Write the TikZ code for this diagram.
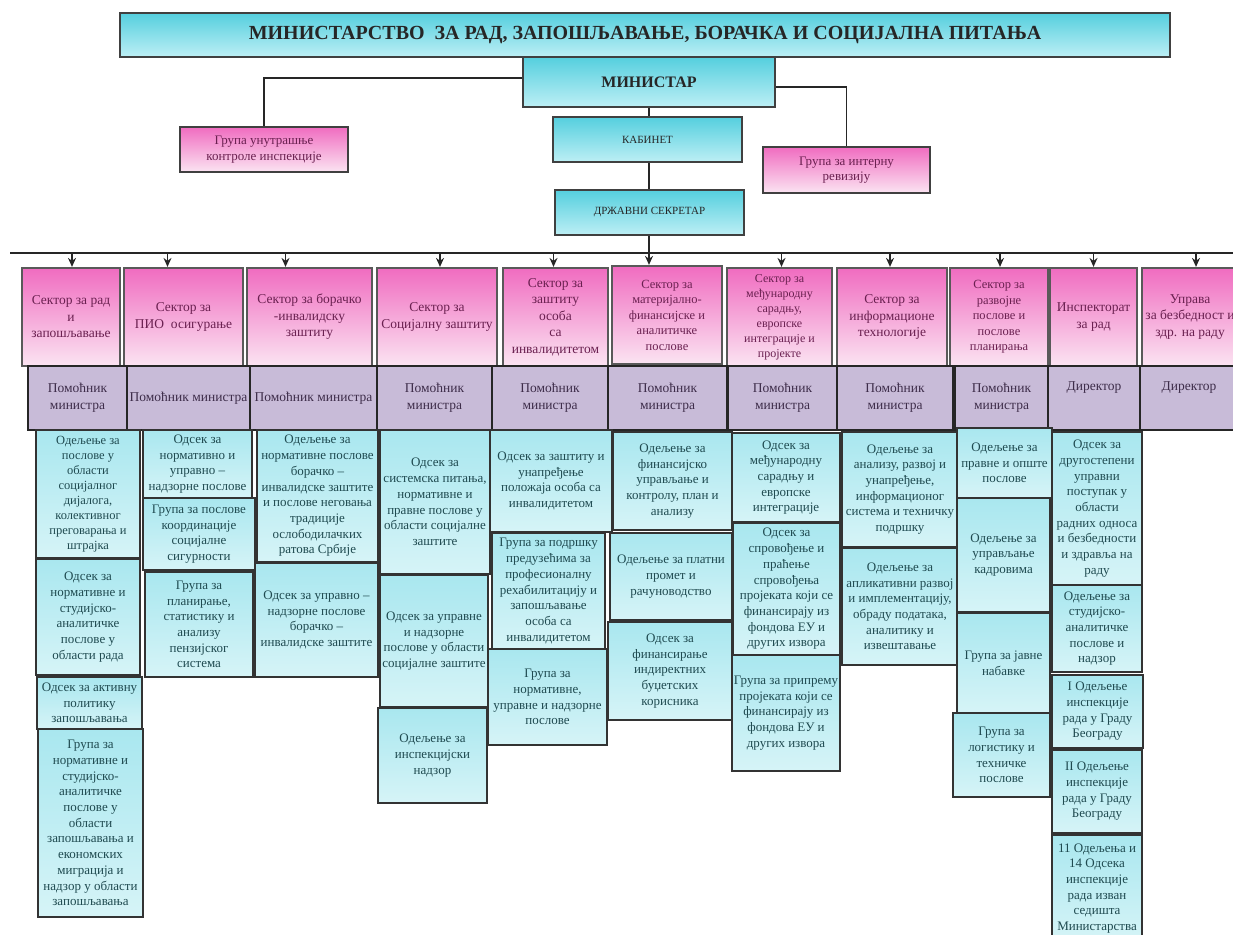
\documentclass[tikz,border=0pt]{standalone}
\usepackage{fontspec}
\setmainfont{Liberation Serif}
\usetikzlibrary{arrows.meta}

\definecolor{pinktop}{HTML}{F06CC0}
\definecolor{pinkbot}{HTML}{FBE4F2}
\definecolor{headtop}{HTML}{55CFDE}
\definecolor{headbot}{HTML}{BDEFF5}
\definecolor{celltop}{HTML}{A9E7EF}
\definecolor{cellbot}{HTML}{D6F4F7}
\definecolor{lavender}{HTML}{C8BBD8}
\definecolor{pinktext}{HTML}{6A2050}
\definecolor{aidetext}{HTML}{3E2D4A}
\definecolor{celltext}{HTML}{1F4A50}

\tikzset{
  headbox/.style={draw=black!75, line width=2.2pt, top color=headtop, bottom color=headbot,
    align=center, inner sep=0pt, text=black!85},
  groupbox/.style={draw=black!75, line width=2.2pt, top color=pinktop, bottom color=pinkbot,
    align=center, inner sep=0pt, text=pinktext, font=\fontsize{13}{15.5}\selectfont},
  sectorbox/.style={draw=black!65, line width=2.2pt, top color=pinktop, bottom color=pinkbot,
    align=center, inner sep=0pt, text=pinktext, font=\fontsize{13.5}{16.5}\selectfont},
  aidebox/.style={draw=black!85, line width=1.2pt, fill=lavender,
    align=center, inner sep=0pt, text=aidetext, font=\fontsize{13.5}{17}\selectfont},
  cellbox/.style={draw=black!80, line width=1.4pt, top color=celltop, bottom color=cellbot,
    align=center, inner sep=0pt, text=celltext, font=\fontsize{13}{15.7}\selectfont},
  link/.style={line width=1.4pt, draw=black!85},
  arr/.style={link, -{Stealth[length=9pt,width=8pt]}}
}

% box given by its corners: name, style, x1, y1, x2, y2, text
\newcommand{\orgbox}[7]{%
  \node[#2, minimum width={#5-#3}, minimum height={#6-#4}] (#1)
    at ({(#3+#5)/2},{(#4+#6)/2}) {#7};}

\begin{document}
\begin{tikzpicture}[x=1pt,y=-1pt]
\useasboundingbox (0,0) rectangle (1233,934);
\clip (0,0) rectangle (1233,934);

% top of the chart
\orgbox{title}{headbox, font=\bfseries\fontsize{20}{23}\selectfont}{120}{13}{1170}{57}{МИНИСТАРСТВО~ ЗА РАД, ЗАПОШЉАВАЊЕ, БОРАЧКА И СОЦИЈАЛНА ПИТАЊА}
\orgbox{min}{headbox, font=\bfseries\fontsize{16}{19}\selectfont}{523}{57}{775}{107}{МИНИСТАР}
\orgbox{kab}{headbox, font=\fontsize{11}{13}\selectfont}{553}{117}{742}{162}{КАБИНЕТ}
\orgbox{ds}{headbox, font=\fontsize{11}{13}\selectfont}{555}{190}{744}{235}{ДРЖАВНИ СЕКРЕТАР}
\orgbox{gui}{groupbox}{180}{127}{348}{172}{Група унутрашње\\ контроле инспекције}
\orgbox{gir}{groupbox}{763}{147}{930}{193}{Група за интерну\\ ревизију}

\draw[link] ([yshift=4pt]min.west) -| (gui.north);
\draw[link] ([yshift=-5pt]min.east) -| (gir.north);
\draw[link] (min.south) -- (min.south |- kab.north);
\draw[link] (min.south |- kab.south) -- (min.south |- ds.north);

% sectors
\orgbox{s1}{sectorbox}{22}{268}{120}{366}{Сектор за рад\\ и\\ запошљавање}
\orgbox{s2}{sectorbox}{124}{268}{243}{366}{Сектор за\\ ПИО~ осигурање}
\orgbox{s3}{sectorbox}{247}{268}{372}{366}{Сектор за борачко\\ -инвалидску\\ заштиту}
\orgbox{s4}{sectorbox}{377}{268}{497}{366}{Сектор за\\ Социјалну заштиту}
\orgbox{s5}{sectorbox}{503}{268}{608}{366}{Сектор за\\ заштиту\\ особа\\ са\\ инвалидитетом}
\orgbox{s6}{sectorbox, font=\fontsize{12.5}{15.5}\selectfont}{612}{266}{722}{364}{Сектор за\\ материјално-\\ финансијске и\\ аналитичке\\ послове}
\orgbox{s7}{sectorbox, font=\fontsize{12}{15}\selectfont}{727}{268}{832}{366}{Сектор за\\ међународну\\ сарадњу,\\ европске\\ интеграције и\\ пројекте}
\orgbox{s8}{sectorbox}{837}{268}{947}{366}{Сектор за\\ информационе\\ технологије}
\orgbox{s9}{sectorbox, font=\fontsize{12.5}{15.5}\selectfont}{950}{268}{1048}{366}{Сектор за\\ развојне\\ послове и\\ послове\\ планирања}
\orgbox{s10}{sectorbox}{1050}{268}{1137}{366}{Инспекторат\\ за рад}
\orgbox{s11}{sectorbox}{1142}{268}{1238}{366}{Управа\\ за безбедност и\\ здр. на раду}

\coordinate (busL) at (10,253);
\coordinate (busR) at (1233,253);
\draw[link] (busL) -- (busR);
\draw[arr] (min.south |- ds.south) -- (min.south |- s6.north);
\foreach \s/\dx in {s1/1,s2/-16,s3/-24,s4/3,s5/-2,s7/2,s8/-2,s9/1,s10/0,s11/6}
  \draw[arr] ([xshift=\dx pt]\s.north |- busL) -- ([xshift=\dx pt]\s.north);

% heads of the sectors
\orgbox{p1}{aidebox}{28}{366}{127}{430}{Помоћник\\ министра}
\orgbox{p2}{aidebox}{127}{366}{250}{430}{Помоћник министра}
\orgbox{p3}{aidebox}{250}{366}{377}{430}{Помоћник министра}
\orgbox{p4}{aidebox}{377}{366}{492}{430}{Помоћник\\ министра}
\orgbox{p5}{aidebox}{492}{366}{608}{430}{Помоћник\\ министра}
\orgbox{p6}{aidebox}{608}{366}{727}{430}{Помоћник\\ министра}
\orgbox{p7}{aidebox}{728}{366}{837}{430}{Помоћник\\ министра}
\orgbox{p8}{aidebox}{837}{366}{953}{430}{Помоћник\\ министра}
\orgbox{p9}{aidebox}{955}{366}{1048}{430}{Помоћник\\ министра}
\orgbox{p10}{aidebox}{1048}{366}{1140}{430}{Директор\\[6pt]}
\orgbox{p11}{aidebox}{1140}{366}{1238}{430}{Директор\\[6pt]}

% units, column by column
\orgbox{a1}{cellbox, font=\fontsize{12.5}{15}\selectfont}{36}{430}{140}{558}{Одељење за\\ послове у\\ области\\ социјалног\\ дијалога,\\ колективног\\ преговарања и\\ штрајка}
\orgbox{a2}{cellbox}{36}{559}{140}{675}{Одсек за\\ нормативне и\\ студијско-\\ аналитичке\\ послове у\\ области рада}
\orgbox{a3}{cellbox}{37}{677}{142}{729}{Одсек за активну\\ политику\\ запошљавања}
\orgbox{a4}{cellbox}{38}{729}{143}{917}{Група за\\ нормативне и\\ студијско-\\ аналитичке\\ послове у\\ области\\ запошљавања и\\ економских\\ миграција и\\ надзор у области\\ запошљавања}

\orgbox{b1}{cellbox}{143}{430}{252}{498}{Одсек за\\ нормативно и\\ управно –\\ надзорне послове}
\orgbox{b2}{cellbox}{143}{498}{255}{570}{Група за послове\\ координације\\ социјалне\\ сигурности}
\orgbox{b3}{cellbox}{145}{572}{253}{677}{Група за\\ планирање,\\ статистику и\\ анализу\\ пензијског\\ система}

\orgbox{c1}{cellbox}{257}{430}{378}{562}{Одељење за\\ нормативне послове\\ борачко –\\ инвалидске заштите\\ и послове неговања\\ традиције\\ ослободилачких\\ ратова Србије}
\orgbox{c2}{cellbox}{255}{563}{378}{677}{Одсек за управно –\\ надзорне послове\\ борачко –\\ инвалидске заштите}

\orgbox{d1}{cellbox}{380}{430}{490}{574}{Одсек за\\ системска питања,\\ нормативне и\\ правне послове у\\ области социјалне\\ заштите}
\orgbox{d2}{cellbox}{380}{575}{488}{707}{Одсек за управне\\ и надзорне\\ послове у области\\ социјалне заштите}
\orgbox{d3}{cellbox}{378}{708}{487}{803}{Одељење за\\ инспекцијски\\ надзор}

\orgbox{e1}{cellbox}{490}{430}{612}{532}{Одсек за заштиту и\\ унапређење\\ положаја особа са\\ инвалидитетом}
\orgbox{e2}{cellbox}{492}{533}{605}{649}{Група за подршку\\ предузећима за\\ професионалну\\ рехабилитацију и\\ запошљавање\\ особа са\\ инвалидитетом}
\orgbox{e3}{cellbox}{488}{649}{607}{745}{Група за\\ нормативне,\\ управне и надзорне\\ послове}

\orgbox{f1}{cellbox}{613}{432}{732}{530}{Одељење за\\ финансијско\\ управљање и\\ контролу, план и\\ анализу}
\orgbox{f2}{cellbox}{610}{533}{732}{620}{Одељење за платни\\ промет и\\ рачуноводство}
\orgbox{f3}{cellbox}{608}{622}{732}{720}{Одсек за\\ финансирање\\ индиректних\\ буџетских\\ корисника}

\orgbox{g1}{cellbox}{732}{433}{840}{522}{Одсек за\\ међународну\\ сарадњу и\\ европске\\ интеграције}
\orgbox{g2}{cellbox}{733}{523}{840}{655}{Одсек за\\ спровођење и\\ праћење\\ спровођења\\ пројеката који се\\ финансирају из\\ фондова ЕУ и\\ других извора}
\orgbox{g3}{cellbox}{732}{655}{840}{771}{Група за припрему\\ пројеката који се\\ финансирају из\\ фондова ЕУ и\\ других извора}

\orgbox{h1}{cellbox}{842}{432}{958}{547}{Одељење за\\ анализу, развој и\\ унапређење,\\ информационог\\ система и техничку\\ подршку}
\orgbox{h2}{cellbox}{842}{548}{958}{665}{Одељење за\\ апликативни развој\\ и имплементацију,\\ обраду података,\\ аналитику и\\ извештавање}

\orgbox{i1}{cellbox}{957}{428}{1052}{498}{Одељење за\\ правне и опште\\ послове}
\orgbox{i2}{cellbox}{957}{498}{1050}{612}{Одељење за\\ управљање\\ кадровима}
\orgbox{i3}{cellbox}{957}{613}{1050}{713}{Група за јавне\\ набавке}
\orgbox{i4}{cellbox}{953}{713}{1050}{797}{Група за\\ логистику и\\ техничке\\ послове}

\orgbox{j1}{cellbox}{1052}{432}{1142}{585}{Одсек за\\ другостепени\\ управни\\ поступак у\\ области\\ радних односа\\ и безбедности\\ и здравља на\\ раду}
\orgbox{j2}{cellbox}{1052}{585}{1142}{672}{Одељење за\\ студијско-\\ аналитичке\\ послове и\\ надзор}
\orgbox{j3}{cellbox}{1052}{675}{1143}{748}{I Одељење\\ инспекције\\ рада у Граду\\ Београду}
\orgbox{j4}{cellbox}{1052}{750}{1142}{833}{II Одељење\\ инспекције\\ рада у Граду\\ Београду}
\orgbox{j5}{cellbox}{1052}{835}{1142}{942}{11 Одељења и\\ 14 Одсека\\ инспекције\\ рада изван\\ седишта\\ Министарства}
\end{tikzpicture}
\end{document}
